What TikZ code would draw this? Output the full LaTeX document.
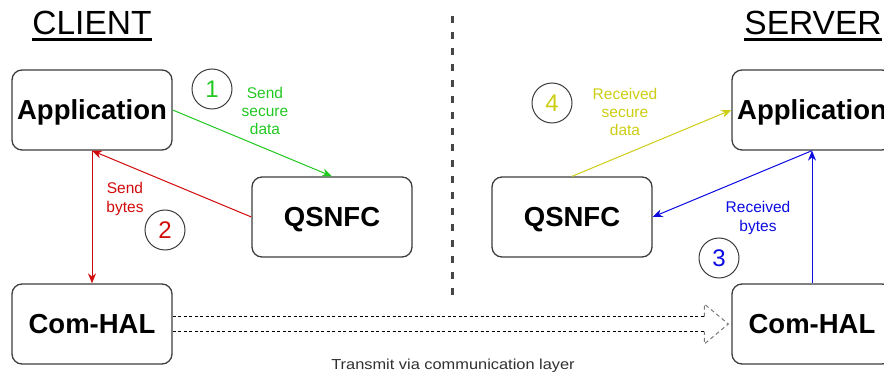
\documentclass[tikz,border=0pt]{standalone}
\usepackage{fontspec}
\setmainfont{Liberation Sans}
\usetikzlibrary{arrows.meta,calc}

\definecolor{edgegray}{RGB}{60,60,60}
\definecolor{sepgray}{RGB}{70,70,70}
\definecolor{sendgreen}{RGB}{34,200,34}
\definecolor{sendred}{RGB}{210,10,10}
\definecolor{recvyellow}{RGB}{205,205,20}
\definecolor{recvblue}{RGB}{10,10,225}

\tikzset{
  layerbox/.style={draw=edgegray, line width=1.3pt, rounded corners=10pt,
    minimum width=160pt, minimum height=80pt, inner sep=0pt, text depth=0pt,
    font=\fontsize{27.5}{30}\selectfont\bfseries},
  sidetitle/.style={inner sep=0pt, anchor=base, font=\fontsize{33.5}{36}\selectfont},
  stepmark/.style={draw=edgegray, circle, line width=1pt, minimum size=40pt,
    inner sep=0pt, font=\fontsize{24}{28}\selectfont},
  flowlabel/.style={inner sep=0pt, align=center, font=\fontsize{15.5}{18.3}\selectfont},
  flow/.style={line width=1pt, -{Stealth[length=10pt,width=8pt]}},
  wire/.style={dash pattern=on 3pt off 2.5pt, line width=1pt, black},
  headline/.style={dash pattern=on 4pt off 3pt, line width=1pt, edgegray!70},
}

\begin{document}
\begin{tikzpicture}[x=1pt,y=-1pt]
\useasboundingbox (0,0) rectangle (884,374);
\clip (0,0) rectangle (884,374);

% side titles
\node[sidetitle] (ctitle) at (92,35) {CLIENT};
\node[sidetitle] (stitle) at (813,35) {SERVER};
\draw[line width=2.4pt] ($(ctitle.base west)+(0,4.5)$) -- ($(ctitle.base east)+(0,4.5)$);
\draw[line width=2.4pt] ($(stitle.base west)+(0,4.5)$) -- ($(stitle.base east)+(0,4.5)$);

% separator between client and server
\coordinate (sepT) at (452,16);
\coordinate (sepB) at (452,298);
\draw[sepgray, line width=3pt, dash pattern=on 7pt off 9pt] (sepT) -- (sepB);

% client side
\node[layerbox] (capp) at (92,110) {Application};
\node[layerbox] (cqs)  at (332,217) {QSNFC};
\node[layerbox] (chal) at (92,324) {Com-HAL};

% server side
\node[layerbox] (sapp) at (812,110) {Application};
\node[layerbox] (sqs)  at (572,217) {QSNFC};
\node[layerbox] (shal) at (812,324) {Com-HAL};

% step markers
\node[stepmark, text=sendgreen]  (m1) at (212,89)  {1};
\node[stepmark, text=sendred]    (m2) at (165,230) {2};
\node[stepmark, text=recvblue]   (m3) at (719,258) {3};
\node[stepmark, text=recvyellow] (m4) at (552,103) {4};

% flow labels
\node[flowlabel, text=sendgreen]  (l1) at (265,111) {Send\\secure\\data};
\node[flowlabel, text=sendred]    (l2) at (125,199) {Send\\bytes};
\node[flowlabel, text=recvblue]   (l3) at (758,218) {Received\\bytes};
\node[flowlabel, text=recvyellow] (l4) at (625,112) {Received\\secure\\data};

% client flows
\draw[flow, sendgreen] (capp.east) -- (cqs.north);
\draw[flow, sendred] (cqs.west) -- (capp.south);
\draw[flow, sendred] (capp.south) -- (chal.north);

% server flows
\draw[flow, recvblue] (shal.north) -- (sapp.south);
\draw[flow, recvblue] (sapp.south) -- (sqs.east);
\draw[flow, recvyellow] (sqs.north) -- (sapp.west);

% hollow transmission arrow between the two Com-HAL layers
\coordinate (tTop) at ($(chal.east)+(0,-7.5)$);
\coordinate (tBot) at ($(chal.east)+(0,7.5)$);
\coordinate (hTopIn)  at ($(shal.west)+(-27,-7.5)$);
\coordinate (hBotIn)  at ($(shal.west)+(-27,7.5)$);
\coordinate (hTopOut) at ($(shal.west)+(-27,-20)$);
\coordinate (hBotOut) at ($(shal.west)+(-27,20)$);
\coordinate (hTip)    at ($(shal.west)+(-3,0)$);
\draw[wire] (tTop) -- (hTopIn);
\draw[wire] (tBot) -- (hBotIn);
\draw[headline] (hTopIn) -- (hTopOut) -- (hTip) -- (hBotOut) -- (hBotIn);

\node[inner sep=0pt, anchor=base, text=edgegray!80!black, font=\fontsize{14.5}{17}\selectfont] (tx) at (453,369)
  {\scalebox{1.13}[1]{Transmit via communication layer}};
\end{tikzpicture}
\end{document}
